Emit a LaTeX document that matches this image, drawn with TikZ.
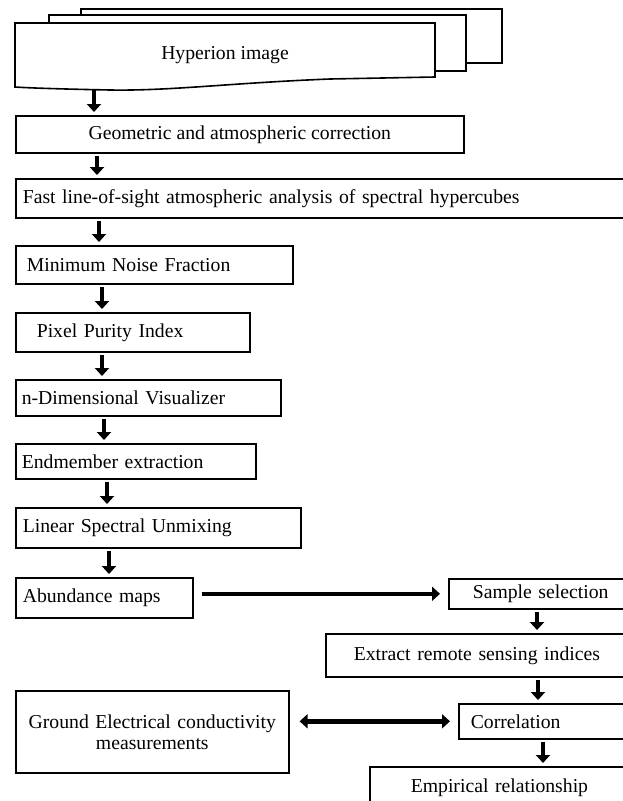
\documentclass[tikz,border=0pt]{standalone}
\usepackage{fontspec}
\setmainfont{Liberation Serif}
\usetikzlibrary{arrows.meta}
\tikzset{
  x=1pt, y=1pt,
  box/.style={draw, line width=1.6pt, fill=white, font=\fontsize{19.7}{21}\selectfont,
    anchor=north west, inner ysep=0pt},
  lbox/.style={box, align=left},
  sheet/.style={draw, line width=1.6pt, fill=white},
  arr/.style={line width=4.5pt, -{Triangle[width=14pt,length=8pt]}, shorten <=2pt, shorten >=3pt},
  darr/.style={line width=4.5pt, {Triangle[width=14pt,length=8pt]}-{Triangle[width=14pt,length=8pt]}}
}
\begin{document}
\begin{tikzpicture}
\useasboundingbox (0,0) rectangle (622,-801);
% stacked sheets
\draw[sheet] (81,-9) rectangle (502,-63);
\draw[sheet] (49,-15) rectangle (466,-71);
\draw[sheet] (15,-23) -- (435,-23) -- (435,-77) -- (330,-79)
  .. controls (230,-83) and (170,-91) .. (110,-90)
  .. controls (60,-89) and (30,-88) .. (15,-87) -- cycle;
\node[font=\fontsize{19.7}{21}\selectfont] (hyp) at (225,-55) {Hyperion image};
\coordinate (hypbot) at (94,-90);

\node[box, minimum width=448pt, minimum height=37pt] (geo) at (15,-115) {Geometric and atmospheric correction};
\node[lbox, text width=611pt, inner xsep=7pt, minimum height=39pt] (fast) at (15,-178) {Fast line-of-sight atmospheric analysis of spectral hypercubes};
\node[lbox, text width=255pt, inner xsep=11pt, minimum height=38pt] (mnf) at (15,-245) {Minimum Noise Fraction};
\node[lbox, text width=192pt, inner xsep=21pt, minimum height=39pt] (ppi) at (15,-312) {Pixel Purity Index};
\node[lbox, text width=253pt, inner xsep=6pt, minimum height=36pt] (ndv) at (15,-379) {n-Dimensional Visualizer};
\node[lbox, text width=228pt, inner xsep=6pt, minimum height=35pt] (endm) at (15,-443) {Endmember extraction};
\node[lbox, text width=271pt, inner xsep=7pt, minimum height=40pt] (lsu) at (15,-507) {Linear Spectral Unmixing};
\node[lbox, text width=163pt, inner xsep=7pt, minimum height=40pt] (abd) at (15,-577) {Abundance maps};
\node[lbox, text width=152pt, inner xsep=24pt, minimum height=30pt] (sam) at (448,-578) {Sample selection};
\node[lbox, text width=264pt, inner xsep=28pt, minimum height=43pt] (ext) at (325,-633) {Extract remote sensing indices};
\node[lbox, text width=166pt, inner xsep=12pt, minimum height=35pt] (cor) at (458,-703) {Correlation};
\node[lbox, text width=198pt, inner xsep=41pt, minimum height=42pt] (emp) at (369,-766) {Empirical relationship};
\node[box, text width=259pt, inner xsep=7pt, align=center, minimum height=82pt] (gnd) at (15,-690) {Ground Electrical conductivity\\measurements};

% vertical arrows
\draw[arr, shorten <=0pt] (hypbot) -- (hypbot |- geo.north);
\draw[arr] ([xshift=82pt]geo.south west) -- ([xshift=82pt]geo.south west |- fast.north);
\draw[arr] ([xshift=84pt]fast.south west) -- ([xshift=84pt]fast.south west |- mnf.north);
\draw[arr] ([xshift=87pt]mnf.south west) -- ([xshift=87pt]mnf.south west |- ppi.north);
\draw[arr] ([xshift=87pt]ppi.south west) -- ([xshift=87pt]ppi.south west |- ndv.north);
\draw[arr] ([xshift=89pt]ndv.south west) -- ([xshift=89pt]ndv.south west |- endm.north);
\draw[arr] ([xshift=92pt]endm.south west) -- ([xshift=92pt]endm.south west |- lsu.north);
\draw[arr] ([xshift=94pt]lsu.south west) -- ([xshift=94pt]lsu.south west |- abd.north);
\draw[arr] ([xshift=89pt]sam.south west) -- ([xshift=89pt]sam.south west |- ext.north);
\draw[arr] ([xshift=213pt]ext.south west) -- ([xshift=213pt]ext.south west |- cor.north);
\draw[arr] ([xshift=85pt]cor.south west) -- ([xshift=85pt]cor.south west |- emp.north);
% horizontal arrows
\draw[arr, shorten <=8pt, shorten >=8pt] (abd.east |- sam.west) -- (sam.west);
\draw[darr, shorten <=10pt, shorten >=8pt] (gnd.east |- cor.west) -- (cor.west);
\end{tikzpicture}
\end{document}
